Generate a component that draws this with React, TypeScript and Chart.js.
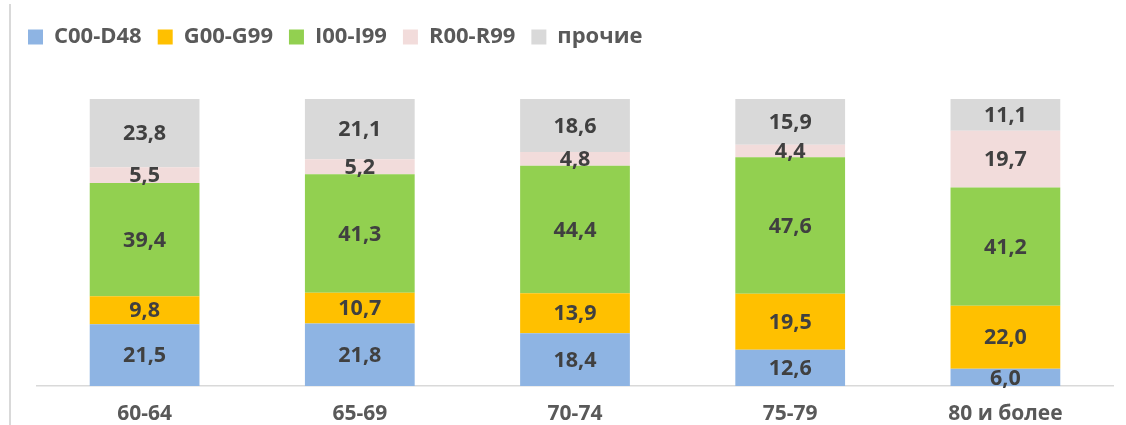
import React, { useEffect, useRef } from "react";
import { Chart, registerables } from "chart.js";

Chart.register(...registerables);

const categories = ["60-64", "65-69", "70-74", "75-79", "80 и более"];
const seriesNames = ["C00-D48", "G00-G99", "I00-I99", "R00-R99", "прочие"];
const c00d48 = [21.5, 21.8, 18.4, 12.6, 6.0];
const g00g99 = [9.8, 10.7, 13.9, 19.5, 22.0];
const i00i99 = [39.4, 41.3, 44.4, 47.6, 41.2];
const r00r99 = [5.5, 5.2, 4.8, 4.4, 19.7];
const other = [23.8, 21.1, 18.6, 15.9, 11.1];
const colors = ["#8EB4E3", "#FFC000", "#92D050", "#F2DCDB", "#D9D9D9"];

const FONT = '"Open Sans", "DejaVu Sans", sans-serif';

const fmt = (v: number) => v.toFixed(1).replace(".", ",");

const legendHeightPlugin = {
  id: "legendHeight",
  beforeInit(chart: any) {
    const legend = chart.legend;
    if (legend && !legend.__patched) {
      const fit = legend.fit;
      legend.fit = function () {
        fit.call(this);
        this.height = 89;
      };
      legend.__patched = true;
    }
  },
};

const valueLabelsPlugin = {
  id: "valueLabels",
  afterDatasetsDraw(chart: any) {
    const ctx = chart.ctx;
    ctx.save();
    ctx.font = `bold 21.5px ${FONT}`;
    ctx.fillStyle = "#404040";
    ctx.textAlign = "center";
    ctx.textBaseline = "middle";
    chart.data.datasets.forEach((ds: any, i: number) => {
      const meta = chart.getDatasetMeta(i);
      meta.data.forEach((el: any, j: number) => {
        const { x, y, base } = el.getProps(["x", "y", "base"], true);
        ctx.fillText(fmt(ds.data[j]), x, (y + base) / 2 + 1);
      });
    });
    ctx.restore();
  },
};

export default function App() {
  const ref = useRef<HTMLCanvasElement | null>(null);

  useEffect(() => {
    if (!ref.current) return;
    const all = [c00d48, g00g99, i00i99, r00r99, other];
    const chart = new Chart(ref.current, {
      type: "bar",
      data: {
        labels: categories,
        datasets: all.map((d, i) => ({
          label: seriesNames[i],
          data: d,
          backgroundColor: colors[i],
          borderWidth: 0,
          barPercentage: 0.51,
          categoryPercentage: 1,
        })),
      },
      options: {
        responsive: false,
        animation: false,
        devicePixelRatio: 1,
        layout: { padding: { left: 12, right: 13, top: 10, bottom: 0 } },
        plugins: {
          tooltip: { enabled: false },
          legend: {
            display: true,
            position: "top",
            align: "start",
            labels: {
              boxWidth: 15,
              boxHeight: 15,
              padding: 16,
              color: "#595959",
              font: { family: FONT, size: 22, weight: "bold" },
            },
          },
        },
        scales: {
          x: {
            stacked: true,
            grid: { display: false, drawTicks: false },
            border: { display: true, color: "#D9D9D9", width: 1.5 },
            ticks: {
              color: "#595959",
              padding: 15,
              font: { family: FONT, size: 21, weight: "bold" },
            },
            afterFit: (axis: any) => {
              axis.height = 39;
            },
          },
          y: {
            stacked: true,
            min: 0,
            max: 100,
            display: true,
            grid: { display: false, drawTicks: false },
            border: { display: false },
            ticks: { display: false },
            afterFit: (axis: any) => {
              axis.width = 25;
            },
          },
        },
      },
      plugins: [legendHeightPlugin, valueLabelsPlugin],
    } as any);
    return () => chart.destroy();
  }, []);

  return (
    <div
      style={{
        position: "fixed",
        left: 0,
        top: 0,
        width: 1126,
        height: 425,
        background: "#ffffff",
        overflow: "hidden",
      }}
    >
      <div
        style={{
          position: "absolute",
          left: 9,
          top: 4,
          width: 2,
          height: 421,
          background: "#D9D9D9",
        }}
      />
      <canvas
        ref={ref}
        width={1126}
        height={425}
        style={{ position: "absolute", left: 0, top: 0, width: 1126, height: 425 }}
      />
    </div>
  );
}
